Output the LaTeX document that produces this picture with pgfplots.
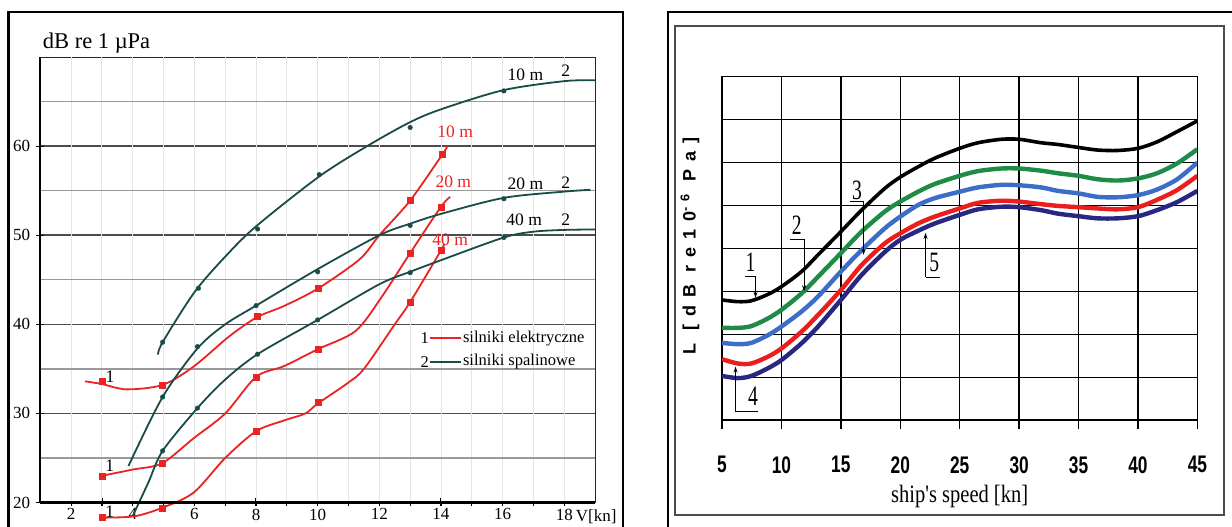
\documentclass[border=0pt]{standalone}
\usepackage{fontspec}
\setmainfont{Liberation Serif}
\setsansfont{Liberation Sans}
\newfontfamily\tickfont[FakeStretch=0.72]{Liberation Sans}
\newfontfamily\ylabfont[LetterSpace=44]{Liberation Sans}
\newfontfamily\xlabfont[FakeStretch=0.82]{Liberation Serif}
\newfontfamily\numfont[FakeStretch=0.7]{Liberation Serif}
\usepackage{pgfplots}
\pgfplotsset{compat=1.18}
\usetikzlibrary{arrows.meta}
\definecolor{tealL}{RGB}{25,75,72}
\definecolor{redL}{RGB}{235,35,35}
\definecolor{greenR}{RGB}{30,140,70}
\definecolor{blueR}{RGB}{60,110,200}
\definecolor{redR}{RGB}{235,30,30}
\definecolor{navyR}{RGB}{40,40,130}
\begin{document}
\begin{tikzpicture}
\useasboundingbox (0,0) rectangle (1232pt,527pt);
\clip (0,0) rectangle (1232pt,527pt);
\fill[white] (0,0) rectangle (1232pt,527pt);
% panel frames
\draw[line width=2.7pt] (8.7pt,-20pt) -- (8.7pt,515pt) -- (623pt,515pt) -- (623pt,-20pt);
\draw[line width=2.5pt] (668pt,-20pt) -- (668pt,515pt) -- (1250pt,515pt);
\draw[line width=1.3pt, black!70] (675pt,12pt) rectangle (1224pt,501pt);
\node[anchor=base west, inner sep=0pt, font=\fontsize{22.5}{22.5}\selectfont] at (42.7pt,478.7pt) {dB re 1 µPa};

% ---------------- left chart ----------------
\begin{axis}[
  at={(40.3pt,24.5pt)}, anchor=south west, scale only axis,
  width=554.8pt, height=445.4pt,
  xmin=1, xmax=19, ymin=20, ymax=70,
  clip=false,
  axis line style={black!85, line width=1.1pt},
  xtick={2,4,...,18},
  minor xtick={3,5,...,17},
  ytick={20,30,...,60},
  extra y ticks={25,35,...,65}, extra y tick labels={},
  extra y tick style={grid=major, major tick length=0pt, major grid style={black!40, line width=1.4pt}},
  extra x ticks={2,3,...,18}, extra x tick labels={},
  extra x tick style={grid=major, major tick length=0pt, major grid style={black!10, line width=0.9pt}},
  ymajorgrids, major grid style={black!70, line width=1.6pt},
  xtick pos=bottom, ytick pos=left,
  tick align=center, major tick length=8pt, minor tick length=8pt,
  tick style={black, line width=1.2pt},
  /pgf/number format/assume math mode=true,
  xticklabel style={font=\fontsize{17}{17}\selectfont, anchor=north, inner sep=0pt, yshift=-2pt},
  yticklabel style={font=\fontsize{17}{17}\selectfont, inner sep=6pt},
]
% electric motors (1)
\addplot[redL, line width=1.8pt, smooth] coordinates {(2.45,33.6) (3.0,33.3) (3.8,32.7) (4.97,33.2) (5.97,35.25) (7.13,38.65) (8.03,40.8) (8.9,42.05) (10.0,44.0) (11.36,47.3) (12.0,50.0) (13.0,53.9) (14.05,59.1) (14.2,60.0)};
\addplot[redL, line width=1.8pt, smooth] coordinates {(3.0,23.0) (4.0,23.7) (4.95,24.4) (5.97,27.2) (7.0,30.0) (8.0,34.1) (8.9,35.3) (10.0,37.2) (11.23,39.26) (12.1,43.2) (13.0,48.0) (14.0,53.2) (14.3,54.3)};
\addplot[redL, line width=1.8pt, smooth] coordinates {(3.0,18.3) (4.05,18.45) (4.95,19.4) (5.97,21.1) (7.0,25.0) (8.0,28.0) (8.9,29.2) (9.6,30.0) (10.0,31.1) (10.97,33.4) (11.5,35.0) (12.5,40.0) (13.0,42.5) (14.0,48.3) (14.1,49.0)};
\addplot[redL, only marks, mark=square*, mark size=3pt] coordinates {(3.0,33.6) (4.97,33.2) (8.03,40.9) (10.0,44.1) (13.0,53.9) (14.05,59.1)};
\addplot[redL, only marks, mark=square*, mark size=3pt] coordinates {(3.0,23.0) (4.95,24.4) (8.0,34.1) (10.0,37.2) (13.0,48.0) (14.0,53.2)};
\addplot[redL, only marks, mark=square*, mark size=3pt] coordinates {(3.0,18.3) (4.95,19.4) (8.0,27.96) (10.0,31.3) (13.0,42.5) (14.0,48.3)};
% diesel engines (2)
\addplot[tealL, line width=1.8pt, smooth] coordinates {(4.82,36.6) (4.97,38.0) (6.0,43.6) (7.0,47.6) (8.0,51.0) (10.05,56.6) (11.6,60.0) (13.0,62.7) (14.05,64.2) (16.04,66.3) (18.0,67.3) (19.0,67.4)};
\addplot[tealL, line width=1.8pt, smooth] coordinates {(3.86,24.1) (4.97,31.85) (6.1,37.3) (7.0,40.0) (8.0,42.1) (10.0,46.2) (12.0,50.0) (13.0,51.3) (14.0,52.4) (16.04,54.2) (18.0,54.9) (18.85,55.1)};
\addplot[tealL, line width=1.8pt, smooth] coordinates {(4.0,18.5) (4.5,22.2) (4.97,25.8) (6.1,30.6) (7.0,33.8) (8.05,36.65) (10.0,40.5) (12.0,44.5) (13.0,45.9) (14.0,47.2) (16.04,49.75) (17.0,50.4) (18.0,50.6) (19.0,50.65)};
\addplot[tealL, only marks, mark=*, mark size=2.3pt] coordinates {(4.97,38.0) (6.13,44.05) (8.05,50.7) (10.05,56.8) (13.0,62.1) (16.04,66.2)};
\addplot[tealL, only marks, mark=*, mark size=2.3pt] coordinates {(4.97,31.85) (6.1,37.5) (8.0,42.1) (10.0,45.9) (13.0,51.1) (16.04,54.1)};
\addplot[tealL, only marks, mark=*, mark size=2.3pt] coordinates {(4.97,25.8) (6.1,30.6) (8.05,36.65) (10.0,40.5) (13.0,45.8) (16.04,49.75)};
% heavy left and bottom spines
\draw[line width=2.2pt] (rel axis cs:0,0) -- (rel axis cs:0,1);
\draw[line width=2.4pt] (rel axis cs:0,0) -- (rel axis cs:1,0);
% key
\draw[redL, line width=1.8pt] (axis cs:13.63,38.45) -- (axis cs:14.66,38.45);
\draw[tealL, line width=1.8pt] (axis cs:13.63,35.8) -- (axis cs:14.66,35.8);
\begin{scope}[every node/.style={font=\fontsize{16.5}{16.5}\selectfont, inner sep=0pt}]
\node at (axis cs:13.47,38.45) {1};
\node at (axis cs:13.47,35.8) {2};
\node[anchor=west] at (axis cs:14.71,38.45) {silniki elektryczne};
\node[anchor=west] at (axis cs:14.71,35.8) {silniki spalinowe};
\end{scope}
% labels
\begin{scope}[every node/.style={font=\fontsize{17.5}{17.5}\selectfont, inner sep=0pt}]
\node at (axis cs:16.74,68.0) {10 m};
\node at (axis cs:18.05,68.5) {2};
\node at (axis cs:16.74,55.8) {20 m};
\node at (axis cs:18.05,55.9) {2};
\node at (axis cs:16.7,51.7) {40 m};
\node at (axis cs:18.05,51.8) {2};
\node[text=redL] at (axis cs:14.46,61.6) {10 m};
\node[text=redL] at (axis cs:14.4,56.0) {20 m};
\node[text=redL] at (axis cs:14.3,49.5) {40 m};
\node at (axis cs:3.26,34.1) {1};
\node at (axis cs:3.25,24.1) {1};
\node at (axis cs:3.25,19.0) {1};
\end{scope}
\node[anchor=base west, inner sep=0pt, font=\fontsize{17}{17}\selectfont, yshift=-19.2pt] at (axis cs:18.37,20) {V[kn]};
\end{axis}

% ---------------- right chart ----------------
\begin{axis}[
  at={(722pt,106.8pt)}, anchor=south west, scale only axis,
  width=475.4pt, height=343.6pt,
  xmin=5, xmax=45, ymin=0, ymax=8,
  xtick={5,10,...,45},
  ytick=\empty,
  extra y ticks={1,2,...,7}, extra y tick labels={},
  extra y tick style={grid=major, major tick length=0pt},
  xmajorgrids,
  major grid style={black, line width=1.3pt},
  axis line style={black, line width=1.5pt},
  tick align=outside, major tick length=9pt, xtick pos=bottom,
  tick style={black, line width=1.3pt},
  /pgf/number format/assume math mode=true,
  xticklabel style={font=\fontsize{24}{24}\tickfont\bfseries, anchor=north, inner sep=0pt, yshift=-27pt},
  every axis x label/.style={at={(rel axis cs:0.5,0)}, yshift=-76pt, anchor=center},
  xlabel={ship's speed [kn]},
  xlabel style={font=\fontsize{25}{25}\xlabfont},
  every axis y label/.style={at={(rel axis cs:0,0.507)}, xshift=-32pt, anchor=center, rotate=90},
  ylabel={L [dB re10\textsuperscript{-6} Pa]},
  ylabel style={font=\fontsize{18}{18}\ylabfont\bfseries},
]
\addplot[black, line width=3.6pt, smooth] coordinates {(5,2.80) (6.34,2.76) (7.46,2.78) (8.87,2.93) (10,3.11) (11.69,3.46) (13.08,3.85) (15,4.39) (16.74,4.89) (18.71,5.40) (20,5.66) (21.5,5.90) (22.9,6.10) (25,6.33) (26.54,6.46) (28.5,6.54) (30,6.54) (31.85,6.46) (33.25,6.42) (35,6.35) (36.6,6.29) (38.3,6.28) (40,6.33) (41.6,6.48) (43.3,6.72) (45,6.97)};
\addplot[greenR, line width=4.4pt, smooth] coordinates {(5,2.15) (6.34,2.15) (7.46,2.19) (8.87,2.37) (10,2.57) (11.69,2.95) (13.08,3.34) (15,3.89) (16.74,4.39) (18.71,4.86) (20,5.09) (21.5,5.32) (22.9,5.50) (25,5.69) (26.54,5.80) (28.5,5.86) (30,5.86) (31.85,5.81) (33.25,5.75) (35,5.69) (36.6,5.61) (38.3,5.58) (40,5.63) (41.6,5.75) (43.3,5.98) (45,6.31)};
\addplot[blueR, line width=4.4pt, smooth] coordinates {(5,1.80) (6.34,1.77) (7.46,1.80) (8.87,1.98) (10,2.18) (11.69,2.53) (13.08,2.88) (15,3.46) (16.74,3.96) (18.71,4.47) (20,4.74) (21.5,5.01) (22.9,5.17) (25,5.32) (26.54,5.42) (28.5,5.48) (30,5.47) (31.85,5.42) (33.25,5.34) (35,5.28) (36.6,5.20) (38.3,5.19) (40,5.24) (41.6,5.37) (43.3,5.61) (45,6.0)};
\addplot[redR, line width=4.4pt, smooth] coordinates {(5,1.42) (6.34,1.32) (7.46,1.32) (8.87,1.48) (10,1.67) (11.69,2.06) (13.08,2.45) (15,3.03) (16.74,3.61) (18.71,4.12) (20,4.35) (21.5,4.58) (22.9,4.74) (25,4.93) (26.54,5.06) (28.5,5.11) (30,5.09) (31.85,5.03) (33.25,4.99) (35,4.96) (36.6,4.93) (38.3,4.91) (40,4.96) (41.6,5.13) (43.3,5.36) (45,5.69)};
\addplot[navyR, line width=4.4pt, smooth] coordinates {(5,1.03) (6.34,0.98) (7.46,1.03) (8.87,1.21) (10,1.40) (11.69,1.79) (13.08,2.18) (15,2.80) (16.74,3.38) (18.71,3.92) (20,4.20) (21.5,4.41) (22.9,4.58) (25,4.78) (26.54,4.91) (28.5,4.97) (30,4.96) (31.85,4.89) (33.25,4.81) (35,4.75) (36.6,4.70) (38.3,4.70) (40,4.75) (41.6,4.89) (43.3,5.08) (45,5.34)};
% leaders
\begin{scope}[line width=1.1pt, every node/.style={font=\fontsize{28}{28}\numfont, inner sep=0pt}]
\draw (axis cs:6.9,3.35) -- (axis cs:7.82,3.35);
\draw[-{Stealth[length=6pt,width=4pt]}] (axis cs:7.82,3.35) -- (axis cs:7.82,2.85);
\node at (axis cs:7.39,3.68) {1};
\draw (axis cs:10.68,4.21) -- (axis cs:11.91,4.21);
\draw[-{Stealth[length=6pt,width=4pt]}] (axis cs:11.91,4.21) -- (axis cs:11.91,3.0);
\node at (axis cs:11.29,4.54) {2};
\draw (axis cs:15.74,5.10) -- (axis cs:16.91,5.10);
\draw[-{Stealth[length=6pt,width=4pt]}] (axis cs:16.91,5.10) -- (axis cs:16.91,3.85);
\node at (axis cs:16.36,5.36) {3};
\draw (axis cs:8.0,0.2) -- (axis cs:6.14,0.2);
\draw[-{Stealth[length=6pt,width=4pt]}] (axis cs:6.14,0.2) -- (axis cs:6.14,1.25);
\node at (axis cs:7.61,0.55) {4};
\draw (axis cs:23.36,3.33) -- (axis cs:22.13,3.33);
\draw[-{Stealth[length=6pt,width=4pt]}] (axis cs:22.13,3.33) -- (axis cs:22.13,4.36);
\node at (axis cs:22.87,3.68) {5};
\end{scope}
\end{axis}
\end{tikzpicture}
\end{document}
